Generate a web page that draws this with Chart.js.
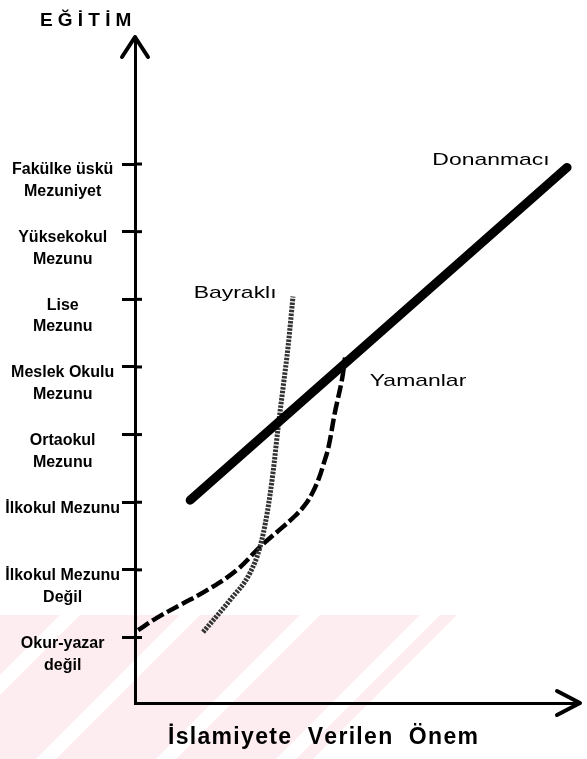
<!DOCTYPE html>
<html><head><meta charset="utf-8">
<script src="https://cdn.jsdelivr.net/npm/chart.js@4"></script>
<style>html,body{margin:0;padding:0;background:#fff}#wrap{width:587px;height:759px}</style>
</head><body><div id="wrap"><canvas id="c" width="587" height="759"></canvas></div>
<script>
// Y-axis categories (education levels), bottom to top
const educationLevels = [
  ["Okur-yazar", "değil"],
  ["İlkokul Mezunu", "Değil"],
  "İlkokul Mezunu",
  ["Ortaokul", "Mezunu"],
  ["Meslek Okulu", "Mezunu"],
  ["Lise", "Mezunu"],
  ["Yüksekokul", "Mezunu"],
  ["Fakülke üskü", "Mezuniyet"]
];
const yAxisTitle = "EĞİTİM";
const xAxisTitle = "İslamiyete  Verilen  Önem";
const seriesNames = ["Donanmacı", "Bayraklı", "Yamanlar"];

// Donanmacı (thick solid line)
const donanmaciX = [12.4, 97.1];
const donanmaciY = [2.03, 6.95];
// Bayraklı (dotted curve)
const bayrakliX = [15.3, 21.3, 25.8, 28.1, 29.7, 31.0, 32.1, 33.3, 34.4, 35.5];
const bayrakliY = [0.08, 0.55, 0.95, 1.34, 1.84, 2.43, 3.07, 3.71, 4.30, 5.04];
// Yamanlar (dashed curve)
const yamanlarX = [0.7, 4.9, 10.1, 16.2, 22.9, 28.1, 33.3, 36.0, 38.2, 39.8, 41.3, 42.4, 43.5, 44.9, 46.5, 47.2];
const yamanlarY = [0.11, 0.29, 0.48, 0.70, 1.00, 1.34, 1.64, 1.80, 1.96, 2.13, 2.35, 2.57, 2.82, 3.32, 3.81, 4.14];

const pts = (xs, ys) => xs.map((x, i) => ({ x: x, y: ys[i] }));

function drawSpaced(ctx, text, x, y, spacing, align) {
  const chars = Array.from(text);
  const widths = chars.map(c => ctx.measureText(c).width);
  const total = widths.reduce((a, b) => a + b, 0) + spacing * (chars.length - 1);
  let cx = align === 'center' ? x - total / 2 : x;
  ctx.textAlign = 'left';
  chars.forEach((c, i) => { ctx.fillText(c, cx, y); cx += widths[i] + spacing; });
}

const labelPositions = [
  { x: 80.0, y: 7.06 },
  { x: 22.5, y: 5.09 },
  { x: 63.6, y: 3.79 }
];

const decor = {
  id: 'decor',
  beforeDraw(chart) {
    const ctx = chart.ctx;
    ctx.save();
    ctx.fillStyle = '#fff';
    ctx.fillRect(0, 0, chart.width, chart.height);
    // faint pink diagonal watermark at bottom-left
    ctx.beginPath();
    ctx.moveTo(0, 615); ctx.lineTo(457, 615); ctx.lineTo(313, 759); ctx.lineTo(0, 759); ctx.closePath();
    ctx.clip();
    ctx.fillStyle = 'rgb(253,236,240)';
    ctx.fillRect(0, 615, 460, 144);
    ctx.fillStyle = '#fff';
    [-170, -50, 70, 190, 310, 430].forEach(c => {
      ctx.beginPath();
      ctx.moveTo(c - 10, 615); ctx.lineTo(c + 10, 615);
      ctx.lineTo(c + 10 - 144, 759); ctx.lineTo(c - 10 - 144, 759);
      ctx.closePath(); ctx.fill();
    });
    ctx.restore();
  },
  afterDraw(chart) {
    const ctx = chart.ctx;
    const xs = chart.scales.x, ys = chart.scales.y;
    const a = chart.chartArea;
    ctx.save();
    ctx.strokeStyle = '#000';
    ctx.fillStyle = '#000';
    // inward tick stubs
    ctx.lineWidth = 3;
    educationLevels.forEach((_, i) => {
      const py = ys.getPixelForValue(i);
      ctx.beginPath(); ctx.moveTo(a.left, py); ctx.lineTo(a.left + 7, py); ctx.stroke();
    });
    // arrows
    ctx.lineWidth = 4; ctx.lineCap = 'round'; ctx.lineJoin = 'round';
    ctx.beginPath();
    ctx.moveTo(a.left - 13, a.top + 20); ctx.lineTo(a.left, a.top); ctx.lineTo(a.left + 13, a.top + 20);
    ctx.stroke();
    ctx.beginPath();
    ctx.moveTo(a.right - 23, a.bottom - 12); ctx.lineTo(a.right, a.bottom); ctx.lineTo(a.right - 23, a.bottom + 12);
    ctx.stroke();
    // axis titles
    ctx.textBaseline = 'alphabetic';
    ctx.font = 'bold 19px "Liberation Sans", Arial, sans-serif';
    drawSpaced(ctx, yAxisTitle, 40, 26, 5.2, 'left');
    ctx.font = 'bold 23px "Liberation Sans", Arial, sans-serif';
    drawSpaced(ctx, xAxisTitle, 323, 744, 1.3, 'center');
    // series labels
    ctx.font = '17px "Liberation Sans", Arial, sans-serif';
    ctx.textAlign = 'center'; ctx.textBaseline = 'middle';
    seriesNames.forEach((name, i) => {
      const px = xs.getPixelForValue(labelPositions[i].x);
      const py = ys.getPixelForValue(labelPositions[i].y);
      ctx.save(); ctx.translate(px, py); ctx.scale(1.35, 1);
      ctx.fillText(name, 0, 0);
      ctx.restore();
    });
    ctx.restore();
  }
};

new Chart(document.getElementById('c'), {
  type: 'line',
  data: {
    datasets: [
      { label: seriesNames[0], data: pts(donanmaciX, donanmaciY), borderColor: '#000', borderWidth: 9,
        borderCapStyle: 'round', pointRadius: 0, tension: 0 },
      { label: seriesNames[1], data: pts(bayrakliX, bayrakliY), borderColor: '#333', borderWidth: 5,
        borderDash: [2.5, 1.2], pointRadius: 0, cubicInterpolationMode: 'monotone' },
      { label: seriesNames[2], data: pts(yamanlarX, yamanlarY), borderColor: '#000', borderWidth: 4.5,
        borderDash: [13, 4], pointRadius: 0, tension: 0.4 }
    ]
  },
  options: {
    responsive: false,
    animation: false,
    devicePixelRatio: 1,
    layout: { padding: { top: 37, right: 7, left: 0, bottom: 0 } },
    plugins: { legend: { display: false }, tooltip: { enabled: false }, title: { display: false } },
    scales: {
      x: {
        type: 'linear', min: 0, max: 100,
        grid: { display: false, drawTicks: false },
        ticks: { display: false },
        border: { display: true, color: '#000', width: 3 },
        afterFit(s) { s.height = 56; }
      },
      y: {
        type: 'linear', min: -0.968, max: 8.878,
        afterBuildTicks(s) { s.ticks = educationLevels.map((_, i) => ({ value: i })); },
        afterFit(s) { s.width = 135; },
        ticks: {
          autoSkip: false, crossAlign: 'center', padding: 2, labelOffset: 6, color: '#000',
          font: { family: '"Liberation Sans", Arial, sans-serif', size: 16, weight: 'bold', lineHeight: 1.35 },
          callback(v) {
            const l = educationLevels[Math.round(v)];
            return Array.isArray(l) ? [''].concat(l) : l;
          }
        },
        grid: { display: true, drawOnChartArea: false, drawTicks: true, tickLength: 13, lineWidth: 3, color: '#000' },
        border: { display: true, color: '#000', width: 3 }
      }
    }
  },
  plugins: [decor]
});
</script>
</body></html>
